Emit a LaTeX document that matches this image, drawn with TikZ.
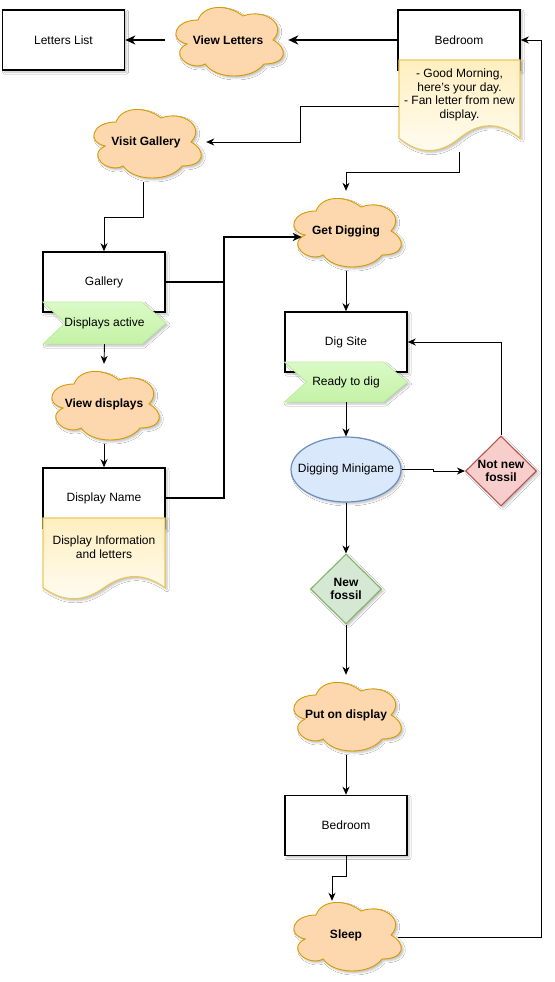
\documentclass[tikz,border=0pt]{standalone}
\usepackage{fontspec}
\setmainfont{Liberation Sans}
\usetikzlibrary{shapes.geometric,arrows.meta,shadows.blur,calc}
\definecolor{cloudfill}{RGB}{253,216,174}
\definecolor{cloudline}{RGB}{215,155,0}
\definecolor{docline}{RGB}{236,200,90}
\definecolor{doctop}{RGB}{255,239,192}
\definecolor{docbot}{RGB}{255,252,242}
\definecolor{steptop}{RGB}{218,250,198}
\definecolor{stepbot}{RGB}{196,242,166}
\definecolor{stepline}{RGB}{190,235,160}
\definecolor{ellfill}{RGB}{218,232,252}
\definecolor{ellline}{RGB}{108,142,191}
\definecolor{redfill}{RGB}{248,206,204}
\definecolor{redline}{RGB}{184,84,80}
\definecolor{grnfill}{RGB}{213,232,212}
\definecolor{grnline}{RGB}{130,179,102}
\newcommand\dtxt{\fontsize{12}{13.5}\selectfont}
\newcommand\dbold{\fontsize{12}{13.5}\selectfont\bfseries}
\tikzset{
  shady/.style={blur shadow={shadow xshift=2pt,shadow yshift=-2pt,shadow blur radius=2pt,shadow opacity=25}},
  conn/.style={draw=black, line width=0.9pt, -{Stealth[length=8pt,width=7pt,inset=2.5pt]}},
  medconn/.style={draw=black, line width=1.3pt, -{Stealth[length=9pt,width=8pt,inset=2.5pt]}},
  medline/.style={draw=black, line width=1.3pt},
  thickconn/.style={draw=black, line width=1.8pt, -{Stealth[length=10pt,width=9pt,inset=3pt]}},
  boxsty/.style={draw=black, line width=1.6pt, fill=white, minimum width=122pt, minimum height=60pt, inner sep=0pt, font=\dtxt, shady},
  cloudsty/.style={draw=cloudline, line width=0.9pt, fill=cloudfill, shady},
  cloudtext/.style={inner sep=0pt, minimum width=120pt, minimum height=80pt, font=\dbold},
  docsty/.style={draw=docline, line width=1.2pt, top color=doctop, bottom color=docbot, shady},
  stepsty/.style={draw=stepline, line width=0.8pt, top color=steptop, bottom color=stepbot, shady},
  doctext/.style={inner sep=0pt, align=center, font=\dtxt},
  diasty/.style={diamond, inner sep=0pt, minimum width=71pt, minimum height=70pt, align=center, font=\dbold, line width=1.1pt, shady},
}
\newcommand\dcloud[4]{%
  \path[cloudsty, shift={({#2-60},{#3-40})}] (30,20) .. controls (6,20) and (0,40) .. (19.2,44) .. controls (0,52.8) and (21.6,72) .. (37.2,64) .. controls (48,80) and (84,80) .. (96,64) .. controls (120,64) and (120,48) .. (105,40) .. controls (120,24) and (96,8) .. (75,16) .. controls (60,4) and (36,4) .. (30,20) -- cycle;
  \node[cloudtext] (#1) at (#2,#3) {#4};
}
\newcommand\docshape[5]{%
  \path[docsty, shift={(#2,#3)}] (0,0) -- (#4,0) -- (#4,{0.85*#5}) .. controls ({0.8333*#4},{0.67*#5}) and ({0.6667*#4},{0.67*#5}) .. ({0.5*#4},{0.85*#5}) .. controls ({0.3333*#4},{1.03*#5}) and ({0.1667*#4},{1.03*#5}) .. (0,{0.85*#5}) -- cycle;
  \node[inner sep=0pt, minimum width=#4pt, minimum height=#5pt] (#1) at ({#2+#4/2},{#3+#5/2}) {};
}
\newcommand\stepshape[6]{%
  \path[stepsty, shift={(#2,#3)}] (0,0) -- ({#4-24},0) -- (#4,{#5/2}) -- ({#4-24},#5) -- (0,#5) -- (22,{#5/2}) -- cycle;
  \node[font=\dtxt, inner sep=0pt, minimum width=#4pt, minimum height=#5pt] (#1) at ({#2+#4/2},{#3+#5/2}) {#6};
}
\begin{document}
\begin{tikzpicture}[x=1pt, y=-1pt]
\useasboundingbox (0,0) rectangle (554,982);
\fill[white] (0,0) rectangle (554,982);

% top row
\node[boxsty] (ll) at (63.5,40) {Letters List};
\dcloud{vl}{228}{40}{View Letters}
\node[boxsty] (bed1) at (459,40) {Bedroom};
\docshape{doc1}{399}{60}{121}{92}
\node[doctext] (doc1t) at (459.5,95) {- Good Morning,\\here's your day.\\- Fan letter from new\\display.};

% left column
\dcloud{vg}{146}{142}{Visit Gallery}
\node[boxsty] (gal) at (104,282) {Gallery};
\stepshape{dact}{43}{302}{123}{42}{Displays active}
\dcloud{vd}{104}{404}{View displays}
\node[boxsty] (dn) at (104,498) {Display Name};
\docshape{doc2}{43}{518}{122}{82}
\node[doctext] (doc2t) at (104,547) {Display Information\\and letters};

% right column
\dcloud{gd}{346}{231}{Get Digging}
\node[boxsty] (ds) at (346,342) {Dig Site};
\stepshape{rtd}{284.5}{362}{123}{40}{Ready to dig}
\node[ellipse, draw=ellline, fill=ellfill, line width=1.2pt, minimum width=110pt, minimum height=65pt, inner sep=0pt, shady] (dm) at (346,469.5) {};
\node[font=\dtxt, inner sep=0pt] (dmt) at (dm.center) {Digging Minigame};
\node[diasty, draw=redline, fill=redfill] (nnf) at (501,471) {Not new\\fossil};
\node[diasty, draw=grnline, fill=grnfill] (nf) at (346,589) {New\\fossil};
\dcloud{pod}{346}{715}{Put on display}
\node[boxsty] (bed2) at (346,825.5) {Bedroom};
\dcloud{sl}{346}{935}{Sleep}

\coordinate (vjoin) at (224,237);

% connectors
\draw[thickconn] (bed1.west) -- (vl.east);
\draw[thickconn] ([xshift=-3pt]vl.west) -- (ll.east);
\draw[conn] (doc1.west) -- ++(-98,0) |- (vg.east);
\draw[conn] (doc1.south) -- ++(0,20) -| (gd.north);
\draw[conn] ([xshift=-3pt]vg.south) -- ++(0,35) -| (gal.north);
\draw[medconn] (gal.east) -| (vjoin) -- ([xshift=16pt,yshift=-6pt]gd.west);
\draw[medline] (dn.east) -| (vjoin);
\draw[conn] (dact.south) -- (vd.north);
\draw[conn] (vd.south) -- (dn.north);
\draw[conn] (gd.south) -- (ds.north);
\draw[conn] (rtd.south) -- (dm.north);
\draw[conn] (dm.east) -- ++(32,0) |- (nnf.west);
\draw[conn] (nnf.north) |- (ds.east);
\draw[conn] (dm.south) -- (nf.north);
\draw[conn] (nf.south) -- (pod.north);
\draw[conn] (pod.south) -- (bed2.north);
\draw[conn] (bed2.south) -- ++(0,20) -| ([xshift=-14pt,yshift=-6pt]sl.north);
\draw[conn] ([xshift=-8pt,yshift=-2pt]sl.east) -| ([xshift=21pt]bed1.east) -- (bed1.east);
\end{tikzpicture}
\end{document}
